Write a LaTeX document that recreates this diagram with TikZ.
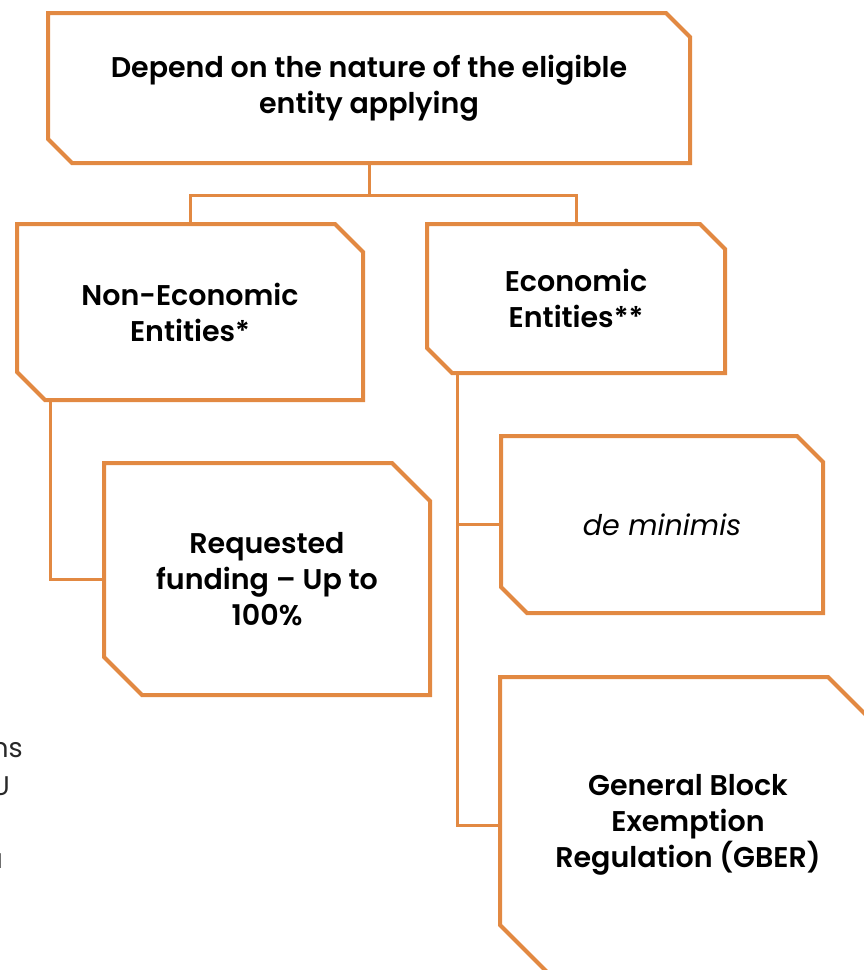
\documentclass[tikz,border=0pt]{standalone}
\usepackage{fontspec}
\setmainfont{Poppins}[BoldFont={Poppins SemiBold}]
\usetikzlibrary{shapes.misc}
\definecolor{boxorange}{RGB}{226,137,66}
\definecolor{sidegray}{RGB}{40,40,40}

\begin{document}
\begin{tikzpicture}[x=1pt,y=-1pt]
    \useasboundingbox (0,0) rectangle (863,970);
    \begin{scope}[every node/.style={chamfered rectangle,
        chamfered rectangle corners={north east,south west},
        draw=boxorange,line width=4pt,fill=white,align=center,inner sep=0pt,
        font=\bfseries\fontsize{28.5}{36}\selectfont}]
        \node[minimum width=642pt,minimum height=150pt,chamfered rectangle xsep=12pt,chamfered rectangle ysep=12pt] (1) at (369,88) {Depend on the nature of the eligible\\entity applying};
        \node[minimum width=346pt,minimum height=176pt,chamfered rectangle xsep=14pt,chamfered rectangle ysep=14pt] (2) at (190,312) {Non-Economic\\Entities*};
        \node[minimum width=298pt,minimum height=149pt,chamfered rectangle xsep=12.5pt,chamfered rectangle ysep=12.5pt] (3) at (576,298.5) {Economic\\Entities**};
        \node[minimum width=326pt,minimum height=232pt,chamfered rectangle xsep=19pt,chamfered rectangle ysep=19pt] (4) at (267,579) {Requested\\funding -- Up to\\100\%};
        \node[minimum width=322pt,minimum height=177pt,chamfered rectangle xsep=15pt,chamfered rectangle ysep=15pt,font=\mdseries\itshape\fontsize{28.5}{36}\selectfont] (5) at (662,524.5) {de minimis};
        \node[minimum width=376pt,minimum height=296pt,chamfered rectangle xsep=24pt,chamfered rectangle ysep=24pt] (6) at (688,825) {General Block\\Exemption\\Regulation (GBER)};
    \end{scope}
    \begin{scope}[every path/.style={draw=boxorange,line width=3pt}]
        \path (1.south) -- ++(0,30) -| (2.north);
        \path (1.south) -- ++(0,30) -| (3.north);
        \path ([xshift=-140pt]2.south) |- (4.west);
        \path ([xshift=-119pt]3.south) |- (5.west);
        \path ([xshift=-119pt]3.south) |- (6.west);
    \end{scope}
    % text of a side box cut off at the left edge
    \begin{scope}[every node/.style={anchor=base east,inner sep=0pt,text=sidegray,font=\fontsize{27}{37}\selectfont}]
        \node (7) at (23,757) {ns};
        \node (8) at (10,795) {U};
        \node (9) at (3,868) {a};
    \end{scope}
\end{tikzpicture}
\end{document}
